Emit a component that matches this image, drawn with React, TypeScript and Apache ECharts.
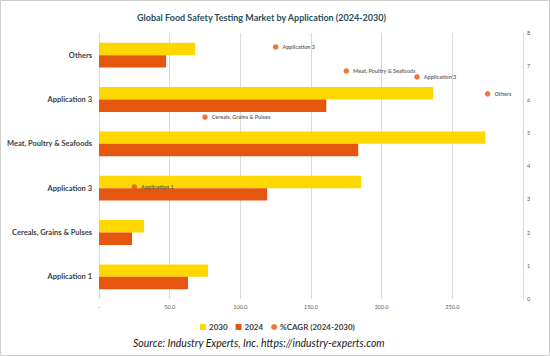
import React, { useEffect, useRef } from "react";
import * as echarts from "echarts";

const categories = ["Application 1", "Cereals, Grains & Pulses", "Application 3", "Meat, Poultry & Seafoods", "Application 3", "Others"];
const values2030 = [77.2, 31.9, 185.5, 273.4, 236.5, 68.0];
const values2024 = [63.0, 23.4, 119.0, 183.4, 160.8, 47.5];
const cagr = [3.37, 5.47, 7.58, 6.86, 6.68, 6.17];
const cagrCategories = ["Application 1", "Cereals, Grains & Pulses", "Application 3", "Meat, Poultry & Seafoods", "Application 3", "Others"];

const YELLOW = "#FFD700";
const ORANGE = "#E5560F";
const FONT = "Lato, 'Open Sans', sans-serif";

export default function App() {
  const ref = useRef<HTMLDivElement>(null);
  useEffect(() => {
    if (!ref.current) return;
    const chart = echarts.init(ref.current, undefined, { renderer: "svg" });
    chart.setOption({
      animation: false,
      backgroundColor: "#ffffff",
      textStyle: { fontFamily: FONT },
      title: {
        text: "Global Food Safety Testing Market by Application (2024-2030)",
        left: 132,
        top: 8,
        textStyle: { fontFamily: FONT, fontSize: 9, fontWeight: "bold", color: "#2a4f5c" },
      },
      legend: {
        left: 195,
        top: 318,
        itemWidth: 6,
        itemHeight: 6,
        itemGap: 8,
        textStyle: { fontFamily: FONT, fontSize: 8, fontWeight: "bold", color: "#404040", padding: [0, 0, 0, -2] },
        data: [
          { name: "2030", icon: "rect" },
          { name: "2024", icon: "rect" },
          { name: "%CAGR (2024-2030)", icon: "circle" },
        ],
      },
      grid: { left: 99, right: 27, top: 33, bottom: 57, containLabel: false },
      xAxis: [
        {
          type: "value",
          min: 0,
          max: 300,
          interval: 50,
          axisLine: { show: false },
          axisTick: { show: false },
          splitLine: { show: true, lineStyle: { color: "#d9d9d9", width: 1 } },
          axisLabel: {
            showMaxLabel: false,
            fontSize: 5.5,
            color: "#595959",
            margin: 5,
            formatter: (v: number) => (v === 0 ? "-" : v.toFixed(1)),
          },
        },
        {
          type: "category",
          data: cagrCategories,
          show: false,
          boundaryGap: true,
        },
      ],
      yAxis: [
        {
          type: "category",
          data: categories,
          axisLine: { show: false },
          axisTick: { show: false },
          axisLabel: { fontSize: 7.5, fontWeight: "bold", color: "#404040", margin: 7 },
        },
        {
          type: "value",
          min: 0,
          max: 8,
          interval: 1,
          position: "right",
          axisLine: { show: true, lineStyle: { color: "#d9d9d9" } },
          axisTick: { show: false },
          splitLine: { show: false },
          axisLabel: { fontSize: 5.5, color: "#595959", margin: 4 },
        },
      ],
      series: [
        {
          name: "2030",
          type: "bar",
          xAxisIndex: 0,
          yAxisIndex: 0,
          data: values2030,
          itemStyle: { color: YELLOW },
          barGap: "0%",
          barCategoryGap: "44%",
        },
        {
          name: "2024",
          type: "bar",
          xAxisIndex: 0,
          yAxisIndex: 0,
          data: values2024,
          itemStyle: { color: ORANGE },
          barGap: "0%",
          barCategoryGap: "44%",
        },
        {
          name: "%CAGR (2024-2030)",
          type: "scatter",
          xAxisIndex: 1,
          yAxisIndex: 1,
          data: cagr,
          symbol: "circle",
          symbolSize: 5.5,
          itemStyle: { color: ORANGE },
          label: {
            show: true,
            position: "right",
            distance: 4,
            fontSize: 5.5,
            fontWeight: "bold",
            color: "#404040",
            formatter: (p: any) => cagrCategories[p.dataIndex],
          },
        },
      ],
      graphic: [
        {
          type: "rect",
          shape: { x: 0.5, y: 0.5, width: 549, height: 355 },
          style: { fill: "none", stroke: "#d0d0d0", lineWidth: 1 },
          silent: true,
        },
        {
          type: "text",
          left: 133,
          top: 337,
          style: {
            text: "Source: Industry Experts, Inc. https://industry-experts.com",
            fontFamily: FONT,
            fontSize: 10.5,
            fontStyle: "italic",
            fill: "#1a1a1a",
          },
        },
      ],
    });
    return () => chart.dispose();
  }, []);
  return <div ref={ref} style={{ position: "absolute", left: 0, top: 0, width: 550, height: 356 }} />;
}
